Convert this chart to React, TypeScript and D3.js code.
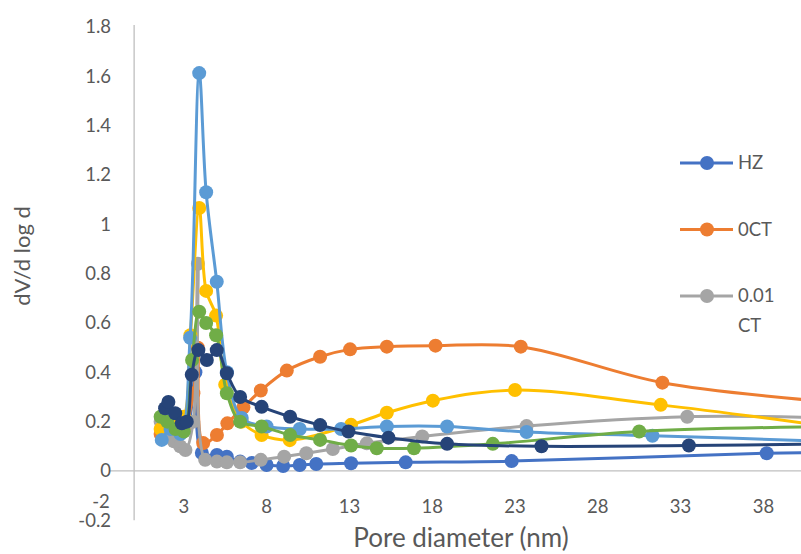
import React from "react";
import * as d3 from "d3";

const W = 801;
const H = 554;

// Series data: [pore diameter (nm), dV/d log d]
const hzX = [1.7, 2.1, 2.5, 2.9, 3.3, 3.7, 4.09, 5.0, 5.6, 6.4, 7.1, 8.0, 9.0, 10.0, 11.0, 13.1, 16.4, 22.8, 38.2, 42];
const hzY = [0.2, 0.21, 0.19, 0.17, 0.2, 0.4, 0.073, 0.065, 0.058, 0.038, 0.032, 0.024, 0.02, 0.024, 0.028, 0.031, 0.035, 0.04, 0.072, 0.075];

const ctX = [1.6, 2.0, 2.5, 3.0, 3.58, 3.85, 4.17, 5.0, 5.63, 6.6, 7.65, 9.22, 11.23, 13.04, 15.26, 18.2, 23.35, 31.9, 42];
const ctY = [0.15, 0.17, 0.16, 0.17, 0.315, 0.5, 0.113, 0.146, 0.193, 0.258, 0.326, 0.407, 0.463, 0.493, 0.504, 0.508, 0.504, 0.358, 0.28];

const ct01X = [1.6, 2.0, 2.4, 2.78, 3.1, 3.57, 3.85, 4.29, 5.0, 5.6, 6.4, 7.65, 9.06, 10.4, 12.0, 14.05, 17.4, 23.7, 33.4, 42];
const ct01Y = [0.2, 0.16, 0.12, 0.1, 0.085, 0.2, 0.84, 0.045, 0.038, 0.035, 0.035, 0.045, 0.058, 0.072, 0.089, 0.112, 0.14, 0.182, 0.22, 0.215];

const yelX = [1.6, 2.0, 2.5, 3.0, 3.4, 3.93, 4.35, 4.95, 5.5, 6.5, 7.7, 9.4, 13.1, 15.26, 18.04, 23.0, 31.8, 42];
const yelY = [0.17, 0.2, 0.19, 0.22, 0.55, 1.066, 0.73, 0.63, 0.35, 0.2, 0.146, 0.125, 0.187, 0.236, 0.285, 0.328, 0.268, 0.18];

const lbX = [1.67, 2.2, 2.8, 3.38, 3.93, 4.35, 4.99, 5.6, 6.5, 8.0, 10.0, 12.5, 15.26, 18.9, 23.7, 31.3, 42];
const lbY = [0.126, 0.17, 0.15, 0.54, 1.613, 1.13, 0.767, 0.4, 0.215, 0.18, 0.17, 0.17, 0.18, 0.18, 0.158, 0.143, 0.12];

const grX = [1.6, 2.0, 2.5, 3.0, 3.5, 3.93, 4.35, 4.95, 5.6, 6.4, 7.7, 9.42, 11.23, 13.1, 14.65, 16.9, 21.66, 30.5, 42];
const grY = [0.22, 0.2, 0.17, 0.16, 0.45, 0.646, 0.6, 0.55, 0.315, 0.2, 0.18, 0.146, 0.126, 0.103, 0.092, 0.092, 0.11, 0.16, 0.18];

const dbX = [1.87, 2.07, 2.48, 2.88, 3.18, 3.48, 3.88, 4.39, 4.99, 5.6, 6.4, 7.7, 9.42, 11.23, 12.94, 15.36, 18.9, 24.6, 33.5, 42];
const dbY = [0.254, 0.28, 0.234, 0.193, 0.2, 0.39, 0.49, 0.45, 0.49, 0.396, 0.3, 0.26, 0.22, 0.186, 0.16, 0.135, 0.11, 0.1, 0.103, 0.11];

const seriesNames = ["HZ", "0CT", "0.01 CT", "0.05 CT", "0.1 CT", "0.5 CT", "1 CT"];
const seriesColors = ["#4472C4", "#ED7D31", "#A5A5A5", "#FFC000", "#5B9BD5", "#70AD47", "#264478"];
const seriesXs = [hzX, ctX, ct01X, yelX, lbX, grX, dbX];
const seriesYs = [hzY, ctY, ct01Y, yelY, lbY, grY, dbY];

const xTicks = [-2, 3, 8, 13, 18, 23, 28, 33, 38];
const yTicks = [-0.2, 0, 0.2, 0.4, 0.6, 0.8, 1, 1.2, 1.4, 1.6, 1.8];
const legendCount = 3;

export default function App() {
  const x = d3.scaleLinear().domain([-2, 42]).range([101, 101 + 44 * 16.56]);
  const y = d3.scaleLinear().domain([-0.2, 1.8]).range([520.3, 27]);
  const line = d3
    .line<[number, number]>()
    .x((d) => x(d[0]))
    .y((d) => y(d[1]))
    .curve(d3.curveCatmullRom.alpha(0.5));
  const font = "Lato, 'Open Sans', sans-serif";
  const txt = "#595959";
  const x0 = x(0);
  const y0 = y(0);
  const fmt = (v: number) => (v === 0 ? "0" : String(Math.round(v * 10) / 10));

  return (
    <svg
      width={W}
      height={H}
      style={{ position: "fixed", left: 0, top: 0, background: "#fff" }}
      fontFamily={font}
    >
      <rect width={W} height={H} fill="#fff" />
      {/* axes */}
      <line x1={x0} x2={x0} y1={y(1.8) - 2} y2={y(-0.2)} stroke="#BFBFBF" strokeWidth={1.3} />
      <line x1={x(-2) + 9} x2={W} y1={y0} y2={y0} stroke="#BFBFBF" strokeWidth={1.3} />
      {yTicks.map((t) => (
        <text key={"y" + t} x={111} y={y(t)} dy="0.35em" textAnchor="end" fontSize={18.5} fill={txt}>
          {fmt(t)}
        </text>
      ))}
      {xTicks.map((t) => (
        <text key={"x" + t} x={x(t)} y={t === -2 ? 502 : 507} dy="0.35em" textAnchor="middle" fontSize={18.5} fill={txt}>
          {t}
        </text>
      ))}
      <text x={461} y={538} dy="0.35em" textAnchor="middle" fontSize={26} fill={txt}>
        Pore diameter (nm)
      </text>
      <text
        transform={`translate(22,256) rotate(-90)`}
        dy="0.35em"
        textAnchor="middle"
        fontSize={22}
        fill={txt}
      >
        dV/d log d
      </text>
      {/* series */}
      {seriesXs.map((xs, i) => {
        const pts = xs.map((v, j) => [v, seriesYs[i][j]] as [number, number]);
        return (
          <g key={"s" + i}>
            <path d={line(pts) || ""} fill="none" stroke={seriesColors[i]} strokeWidth={3} />
            {pts.map((p, j) => (
              <circle key={j} cx={x(p[0])} cy={y(p[1])} r={7} fill={seriesColors[i]} />
            ))}
          </g>
        );
      })}
      {/* legend */}
      {seriesNames.slice(0, legendCount).map((n, i) => {
        const ly = 163 + i * 66.5;
        const parts = n === "0.01 CT" ? ["0.01", "CT"] : [n];
        return (
          <g key={"l" + i}>
            <line x1={680} x2={733} y1={ly} y2={ly} stroke={seriesColors[i]} strokeWidth={3} />
            <circle cx={707} cy={ly} r={7} fill={seriesColors[i]} />
            {parts.map((p, k) => (
              <text key={k} x={738} y={ly + k * 30} dy="0.35em" fontSize={18.5} fill={txt}>
                {p}
              </text>
            ))}
          </g>
        );
      })}
    </svg>
  );
}
